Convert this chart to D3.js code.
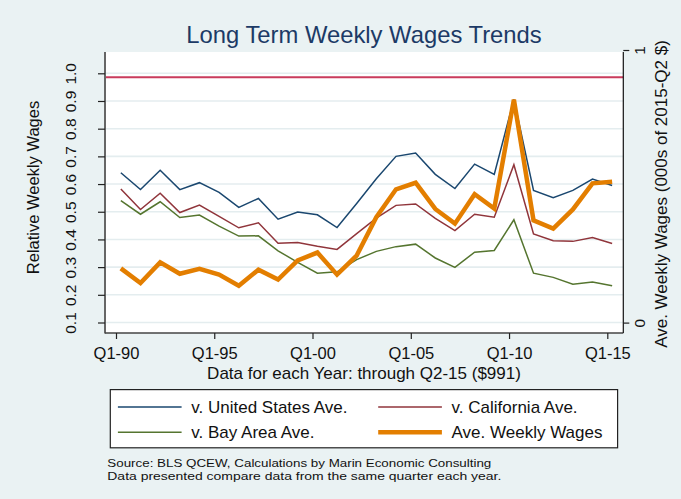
<!DOCTYPE html>
<html>
<head>
<meta charset="utf-8">
<script src="https://cdn.jsdelivr.net/npm/d3@7"></script>
<style>
    body { margin: 0; background: #eaf2f3; }
    svg { display: block; font-family: "Liberation Sans", Arial, sans-serif; }
</style>
</head>
<body>
<div id="chart"></div>
<script>
// Years of data (each point is Q2 of the year)
const years = [1990, 1991, 1992, 1993, 1994, 1995, 1996, 1997, 1998, 1999, 2000, 2001, 2002,
    2003, 2004, 2005, 2006, 2007, 2008, 2009, 2010, 2011, 2012, 2013, 2014, 2015];

// Relative weekly wages (left axis)
const usAve = [0.641, 0.580, 0.650, 0.580, 0.605, 0.570, 0.516, 0.548, 0.473, 0.499, 0.489, 0.443, 0.530,
    0.619, 0.700, 0.712, 0.635, 0.584, 0.672, 0.635, 0.906, 0.577, 0.551, 0.577, 0.618, 0.595];
const caAve = [0.582, 0.508, 0.567, 0.497, 0.524, 0.483, 0.442, 0.460, 0.386, 0.389, 0.375, 0.364, 0.421,
    0.477, 0.523, 0.528, 0.476, 0.432, 0.491, 0.480, 0.670, 0.420, 0.395, 0.393, 0.407, 0.385];
const bayAve = [0.540, 0.491, 0.536, 0.479, 0.488, 0.448, 0.412, 0.413, 0.359, 0.317, 0.278, 0.283, 0.327,
    0.357, 0.374, 0.383, 0.333, 0.299, 0.354, 0.360, 0.471, 0.278, 0.263, 0.238, 0.246, 0.233];

// Average weekly wages, 000s of 2015-Q2 $ (right axis)
const weeklyWages = [0.199, 0.145, 0.221, 0.179, 0.197, 0.176, 0.135, 0.194, 0.158, 0.228, 0.257, 0.176, 0.246,
    0.387, 0.489, 0.513, 0.417, 0.363, 0.471, 0.418, 0.818, 0.375, 0.345, 0.415, 0.511, 0.517];

// Reference line (right axis)
const referenceLine = 0.9;

// Tick labels
const xTickYears = [1990, 1995, 2000, 2005, 2010, 2015];
const xTickLabels = ["Q1-90", "Q1-95", "Q1-00", "Q1-05", "Q1-10", "Q1-15"];
const leftTicks = [0.1, 0.2, 0.3, 0.4, 0.5, 0.6, 0.7, 0.8, 0.9, 1.0];
const rightTicks = [0, 1];

const legendLabels = ["v. United States Ave.", "v. California Ave.", "v. Bay Area Ave.", "Ave. Weekly Wages"];

const WIDTH = 681;
const HEIGHT = 499;
const PLOT_LEFT = 105;
const PLOT_RIGHT = 623.3;
const PLOT_TOP = 52;
const PLOT_BOTTOM = 333;

const NAVY = "#1a476f";
const MAROON = "#90353b";
const GREEN = "#55752f";
const ORANGE = "#e37e00";
const CRANBERRY = "#c93b5c";

const svg = d3.select("#chart")
    .append("svg")
    .attr("width", WIDTH)
    .attr("height", HEIGHT);

svg.append("rect")
    .attr("width", WIDTH)
    .attr("height", HEIGHT)
    .attr("fill", "#eaf2f3");

// Plot region
svg.append("rect")
    .attr("x", PLOT_LEFT)
    .attr("y", PLOT_TOP)
    .attr("width", PLOT_RIGHT - PLOT_LEFT)
    .attr("height", PLOT_BOTTOM - PLOT_TOP)
    .attr("fill", "#ffffff");

// Scales
let xScale = d3.scaleTime()
    .domain([new Date(1990, 0, 1), new Date(2015, 0, 1)])
    .range([116, 607.3]);

let yLeft = d3.scaleLinear()
    .domain([0.1, 1.0])
    .range([322.5, 73.3]);

let yRight = d3.scaleLinear()
    .domain([0, 1])
    .range([322.6, 50]);

const q2 = (year) => new Date(year, 3, 1);

// Gridlines
svg.append("g")
    .selectAll("line")
    .data(leftTicks)
    .enter()
    .append("line")
    .attr("x1", PLOT_LEFT)
    .attr("x2", PLOT_RIGHT)
    .attr("y1", d => yLeft(d))
    .attr("y2", d => yLeft(d))
    .attr("stroke", "#e4edef")
    .attr("stroke-width", 1.6);

// Reference line
svg.append("line")
    .attr("x1", PLOT_LEFT)
    .attr("x2", PLOT_RIGHT)
    .attr("y1", yRight(referenceLine))
    .attr("y2", yRight(referenceLine))
    .attr("stroke", CRANBERRY)
    .attr("stroke-width", 2);

// Series lines
const series = [
    { values: usAve, scale: yLeft, color: NAVY, width: 1.5 },
    { values: caAve, scale: yLeft, color: MAROON, width: 1.5 },
    { values: bayAve, scale: yLeft, color: GREEN, width: 1.5 },
    { values: weeklyWages, scale: yRight, color: ORANGE, width: 4.5 }
];

series.forEach((s) => {
    let line = d3.line()
        .x((d, i) => xScale(q2(years[i])))
        .y(d => s.scale(d));
    svg.append("path")
        .datum(s.values)
        .attr("d", line)
        .attr("fill", "none")
        .attr("stroke", s.color)
        .attr("stroke-width", s.width)
        .attr("stroke-linejoin", "miter");
});

// Axis frame lines
svg.append("line")
    .attr("x1", PLOT_LEFT).attr("x2", PLOT_LEFT)
    .attr("y1", PLOT_TOP).attr("y2", PLOT_BOTTOM + 0.5)
    .attr("stroke", "#666").attr("stroke-width", 2);
svg.append("line")
    .attr("x1", PLOT_LEFT).attr("x2", PLOT_RIGHT)
    .attr("y1", PLOT_BOTTOM).attr("y2", PLOT_BOTTOM)
    .attr("stroke", "#444").attr("stroke-width", 1.5);
svg.append("line")
    .attr("x1", PLOT_RIGHT).attr("x2", PLOT_RIGHT)
    .attr("y1", PLOT_TOP).attr("y2", PLOT_BOTTOM)
    .attr("stroke", "#111").attr("stroke-width", 1.2);

// X axis
let xAxis = svg.append("g")
    .attr("transform", `translate(0,${PLOT_BOTTOM})`)
    .call(d3.axisBottom(xScale)
        .tickValues(xTickYears.map(y => new Date(y, 0, 1)))
        .tickFormat((d, i) => xTickLabels[i])
        .tickSize(6)
        .tickPadding(8));
xAxis.select(".domain").remove();
xAxis.selectAll("line").attr("stroke", "#222").attr("stroke-width", 1.2);
xAxis.selectAll("text")
    .attr("font-size", "16.5px")
    .attr("font-family", "Liberation Sans, Arial, sans-serif")
    .attr("fill", "#111");

// Left axis
let leftAxis = svg.append("g")
    .attr("transform", `translate(${PLOT_LEFT},0)`)
    .call(d3.axisLeft(yLeft)
        .tickValues(leftTicks)
        .tickFormat(d3.format(".1f"))
        .tickSize(7));
leftAxis.select(".domain").remove();
leftAxis.selectAll("line").attr("stroke", "#222").attr("stroke-width", 1.2);
leftAxis.selectAll("text")
    .attr("x", null)
    .attr("dy", null)
    .attr("text-anchor", "middle")
    .attr("transform", "translate(-29.5,0) rotate(-90)")
    .attr("font-size", "15.5px")
    .attr("font-family", "Liberation Sans, Arial, sans-serif")
    .attr("fill", "#111");

// Right axis
let rightAxis = svg.append("g")
    .attr("transform", `translate(${PLOT_RIGHT},0)`)
    .call(d3.axisRight(yRight)
        .tickValues(rightTicks)
        .tickFormat(d3.format("d"))
        .tickSize(6));
rightAxis.select(".domain").remove();
rightAxis.selectAll("line").attr("stroke", "#222").attr("stroke-width", 1.2);
rightAxis.selectAll("text")
    .attr("x", null)
    .attr("dy", null)
    .attr("text-anchor", "middle")
    .attr("transform", "translate(22,0) rotate(-90)")
    .attr("font-size", "15.5px")
    .attr("font-family", "Liberation Sans, Arial, sans-serif")
    .attr("fill", "#111");

// Title
svg.append("text")
    .attr("x", 364)
    .attr("y", 43.3)
    .attr("text-anchor", "middle")
    .attr("font-size", "23.8px")
    .attr("fill", "#1c3a66")
    .text("Long Term Weekly Wages Trends");

// Axis titles
svg.append("text")
    .attr("text-anchor", "middle")
    .attr("transform", "translate(39,187.5) rotate(-90)")
    .attr("font-size", "16.5px")
    .attr("fill", "#111")
    .text("Relative Weekly Wages");

svg.append("text")
    .attr("text-anchor", "middle")
    .attr("transform", "translate(667,194) rotate(-90)")
    .attr("font-size", "17px")
    .attr("fill", "#111")
    .text("Ave. Weekly Wages (000s of 2015-Q2 $)");

svg.append("text")
    .attr("x", 364)
    .attr("y", 379)
    .attr("text-anchor", "middle")
    .attr("font-size", "17px")
    .attr("fill", "#111")
    .text("Data for each Year: through Q2-15 ($991)");

// Legend
const legend = svg.append("g");
legend.append("rect")
    .attr("x", 110.3)
    .attr("y", 389.6)
    .attr("width", 507.3)
    .attr("height", 58.2)
    .attr("fill", "#ffffff")
    .attr("stroke", "#222")
    .attr("stroke-width", 1.2);

const legendCols = [117.9, 378.2];
const legendRows = [406.9, 432.3];

legend.selectAll("g")
    .data(series)
    .enter()
    .append("g")
    .attr("transform", (d, i) => `translate(${legendCols[i % 2]},${legendRows[Math.floor(i / 2)]})`)
    .each(function (d, i) {
        const g = d3.select(this);
        g.append("line")
            .attr("x1", 0)
            .attr("x2", 63.7)
            .attr("stroke", d.color)
            .attr("stroke-width", d.width);
        g.append("text")
            .attr("x", 73.4)
            .attr("dy", "0.35em")
            .attr("font-size", "17px")
            .attr("fill", "#111")
            .text(legendLabels[i]);
    });

// Source note (two separate lines, stretched to the reference width)
svg.append("text")
    .attr("x", 107.3)
    .attr("y", 466.5)
    .attr("font-size", "11.8px")
    .attr("fill", "#111")
    .attr("textLength", 384)
    .attr("lengthAdjust", "spacingAndGlyphs")
    .text("Source: BLS QCEW, Calculations by Marin Economic Consulting");
svg.append("text")
    .attr("x", 107.3)
    .attr("y", 480)
    .attr("font-size", "11.8px")
    .attr("fill", "#111")
    .attr("textLength", 394)
    .attr("lengthAdjust", "spacingAndGlyphs")
    .text("Data presented compare data from the same quarter each year.");
</script>
</body>
</html>
